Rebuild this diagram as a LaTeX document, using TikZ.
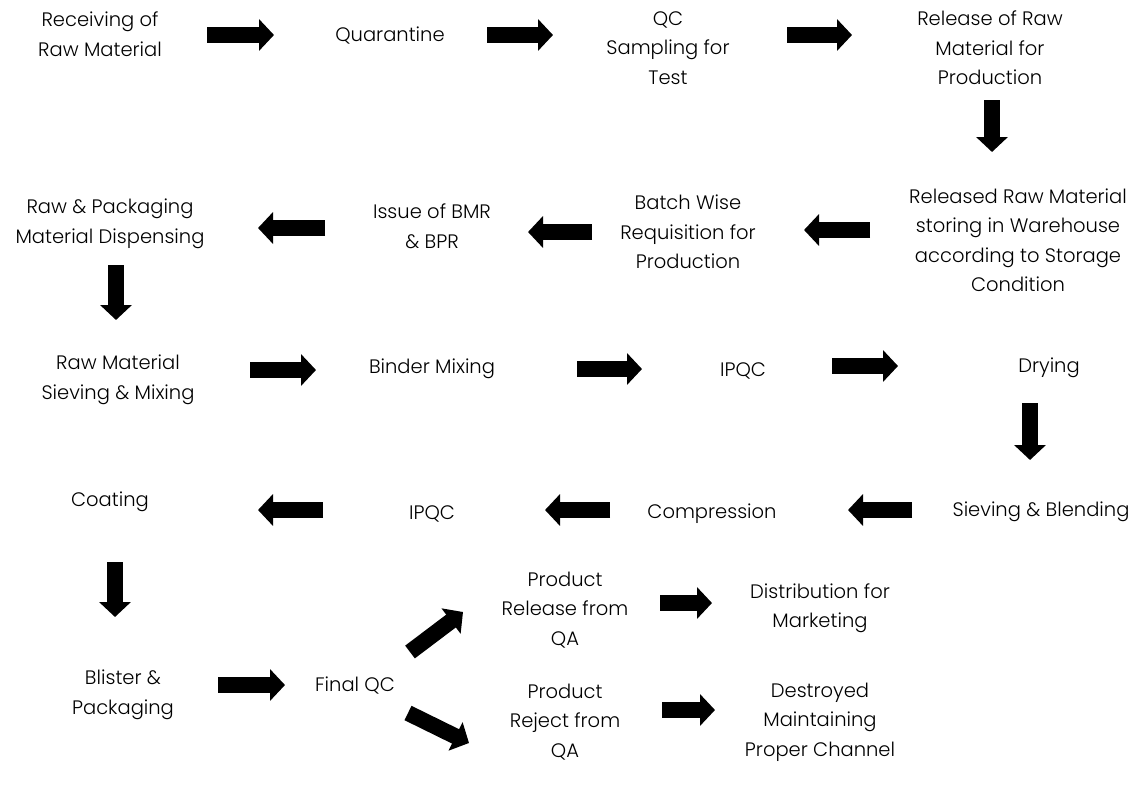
\documentclass[tikz,border=0pt]{standalone}
\usepackage{fontspec}
\setmainfont{Poppins Light}
\usetikzlibrary{calc,arrows.meta}

\begin{document}
\begin{tikzpicture}[x=1pt,y=-1pt,
  proc/.style={align=center, inner sep=0pt, font=\fontsize{19.5}{29.5}\selectfont},
  flow/.style={line width=16pt, -{Triangle[width=31pt,length=15pt]}}]
  \useasboundingbox (0,0) rectangle (1145,792);

  % Intake section: nodes
  \node[proc] (recv) at (100,34) {Receiving of\\Raw Material};
  \node[proc] (quar) at (390,36) {Quarantine};
  \node[proc] (qcs) at (668,48) {QC\\Sampling for\\Test};
  \node[proc] (rel) at (990,48) {Release of Raw\\Material for\\Production};

  % Dispensing section: nodes
  \node[proc] (stor) at (1018,240) {Released Raw Material\\storing in Warehouse\\according to Storage\\Condition};
  \node[proc] (batch) at (688,232) {Batch Wise\\Requisition for\\Production};
  \node[proc] (bmr) at (432,226) {Issue of BMR\\\& BPR};
  \node[proc] (disp) at (110,224) {Raw \& Packaging\\Material Dispensing};

  % Granulation section: nodes
  \node[proc] (siev) at (118,380) {Raw Material\\Sieving \& Mixing};
  \node[proc] (bind) at (432,369) {Binder Mixing};
  \node[proc] (ipqcA) at (743,371) {IPQC};
  \node[proc] (dry) at (1049,368) {Drying};

  % Tablet section: nodes
  \node[proc] (blend) at (1041,512) {Sieving \& Blending};
  \node[proc] (comp) at (712,514) {Compression};
  \node[proc] (ipqcB) at (432,514) {IPQC};
  \node[proc] (coat) at (110,502) {Coating};

  % Release section: nodes
  \node[proc] (blis) at (123,695) {Blister \&\\Packaging};
  \node[proc] (fqc) at (355,685) {Final QC};
  \node[proc] (prel) at (565,610) {Product\\Release from\\QA};
  \node[proc] (dist) at (820,608) {Distribution for\\Marketing};
  \node[proc] (prej) at (565,722) {Product\\Reject from\\QA};
  \node[proc] (dest) at (820,722) {Destroyed\\Maintaining\\Proper Channel};

  % Intake section: connections
  \draw[flow] ($(recv)+(107,1)$) -- ($(quar)+(-116,-1)$);
  \draw[flow] ($(quar)+(97,-1)$) -- ($(qcs)+(-115,-13)$);
  \draw[flow] ($(qcs)+(119,-13)$) -- ($(rel)+(-138,-13)$);
  \draw[flow] ($(rel)+(2,52)$) -- ($(stor)+(-26,-88)$);

  % Dispensing section: connections
  \draw[flow] ($(stor)+(-148,-10)$) -- ($(batch)+(116,-2)$);
  \draw[flow] ($(batch)+(-96,0)$) -- ($(bmr)+(96,6)$);
  \draw[flow] ($(bmr)+(-107,2)$) -- ($(disp)+(148,4)$);
  \draw[flow] ($(disp)+(6,41)$) -- ($(siev)+(-2,-60)$);

  % Granulation section: connections
  \draw[flow] ($(siev)+(132,-10)$) -- ($(bind)+(-116,1)$);
  \draw[flow] ($(bind)+(145,0)$) -- ($(ipqcA)+(-101,-2)$);
  \draw[flow] ($(ipqcA)+(89,-5)$) -- ($(dry)+(-151,-2)$);
  \draw[flow] ($(dry)+(-19,35)$) -- ($(blend)+(-11,-52)$);

  % Tablet section: connections
  \draw[flow] ($(blend)+(-129,-2)$) -- ($(comp)+(136,-4)$);
  \draw[flow] ($(comp)+(-102,-4)$) -- ($(ipqcB)+(113,-4)$);
  \draw[flow] ($(ipqcB)+(-109,-4)$) -- ($(coat)+(148,8)$);
  \draw[flow] ($(coat)+(5,60)$) -- ($(blis)+(-8,-78)$);

  % Release section: connections
  \draw[flow] ($(blis)+(95,-10)$) -- ($(fqc)+(-70,0)$);
  \draw[flow] ($(fqc)+(55,-33)$) -- ($(prel)+(-102,2)$);
  \draw[flow] ($(fqc)+(53,28)$) -- ($(prej)+(-96,21)$);
  \draw[flow] ($(prel)+(95,-7)$) -- ($(dist)+(-108,-5)$);
  \draw[flow] ($(prej)+(97,-12)$) -- ($(dest)+(-105,-12)$);
\end{tikzpicture}
\end{document}
